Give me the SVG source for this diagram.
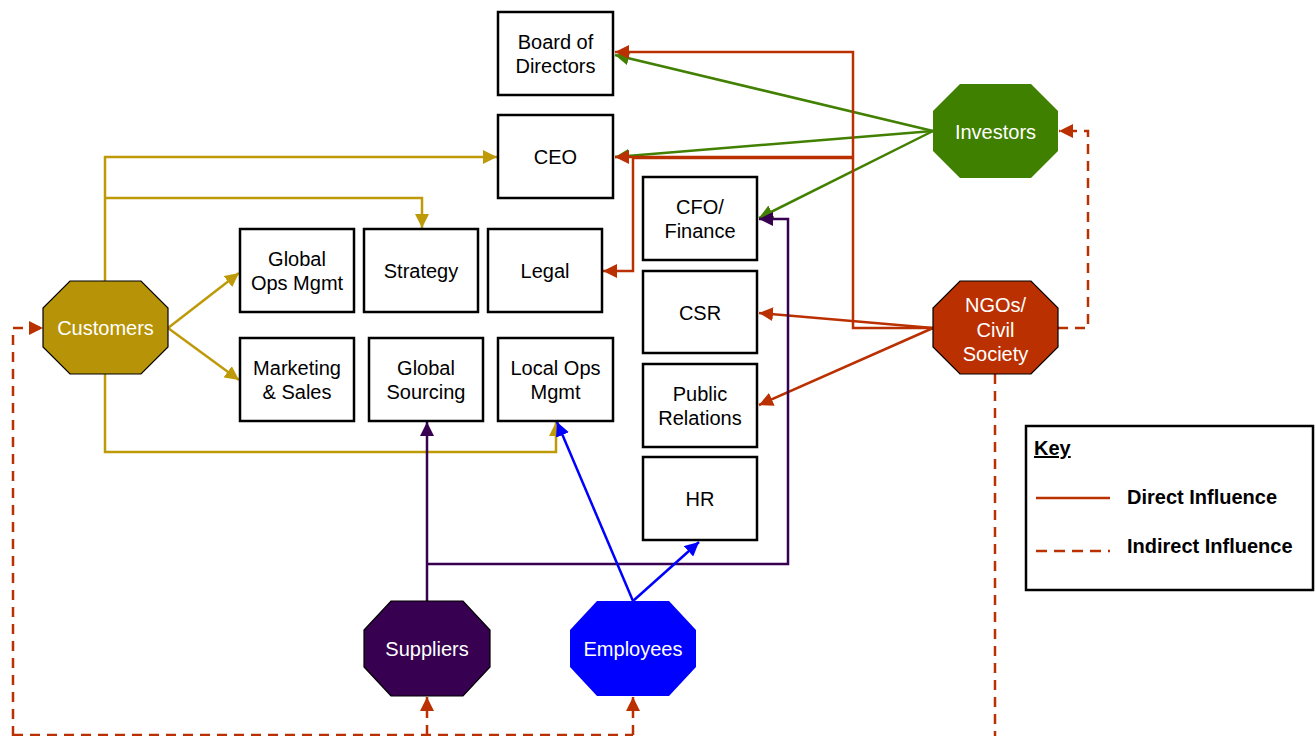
<svg xmlns="http://www.w3.org/2000/svg" width="1315" height="736" viewBox="0 0 1315 736">
<defs>
<style>
.box{fill:#fff;stroke:#000;stroke-width:2.5}
.t{font-family:"Liberation Sans",Arial,sans-serif;font-size:20px;fill:#000;text-anchor:middle}
.w{fill:#fff}
.c{fill:none;stroke-width:2.5;stroke-linejoin:miter}
.gold{stroke:#BE9A08}
.green{stroke:#418000}
.red{stroke:#BA3000}
.purple{stroke:#380050}
.blue{stroke:#0000FF}
.dash{stroke-dasharray:10,7}
.k{font-family:"Liberation Sans",Arial,sans-serif;font-size:20px;font-weight:bold;fill:#000}
</style>
<marker id="aGold" viewBox="0 0 10 10" refX="10" refY="5" markerWidth="14" markerHeight="14" markerUnits="userSpaceOnUse" orient="auto"><path d="M0,0L10,5L0,10z" fill="#BE9A08"/></marker>
<marker id="aGreen" viewBox="0 0 10 10" refX="10" refY="5" markerWidth="14" markerHeight="14" markerUnits="userSpaceOnUse" orient="auto"><path d="M0,0L10,5L0,10z" fill="#418000"/></marker>
<marker id="aRed" viewBox="0 0 10 10" refX="10" refY="5" markerWidth="14" markerHeight="14" markerUnits="userSpaceOnUse" orient="auto"><path d="M0,0L10,5L0,10z" fill="#BA3000"/></marker>
<marker id="aPurple" viewBox="0 0 10 10" refX="10" refY="5" markerWidth="14" markerHeight="14" markerUnits="userSpaceOnUse" orient="auto"><path d="M0,0L10,5L0,10z" fill="#380050"/></marker>
<marker id="aBlue" viewBox="0 0 10 10" refX="10" refY="5" markerWidth="14" markerHeight="14" markerUnits="userSpaceOnUse" orient="auto"><path d="M0,0L10,5L0,10z" fill="#0000FF"/></marker>
</defs>
<rect width="1315" height="736" fill="#fff"/>

<g id="connectors">
<!-- Customers (gold) -->
<path class="c gold" d="M105,281V157H497" marker-end="url(#aGold)"/>
<path class="c gold" d="M105,198H422V228" marker-end="url(#aGold)"/>
<path class="c gold" d="M168,328L239,273" marker-end="url(#aGold)"/>
<path class="c gold" d="M168,328L239,380" marker-end="url(#aGold)"/>
<path class="c gold" d="M105,374V452H556V422" marker-end="url(#aGold)"/>
<!-- Investors (green) -->
<path class="c green" d="M933,131L615,55" marker-end="url(#aGreen)"/>
<path class="c green" d="M933,131L615,157" marker-end="url(#aGreen)"/>
<path class="c green" d="M933,131L759,218" marker-end="url(#aGreen)"/>
<!-- NGOs (red) -->
<path class="c red" d="M933,328H853V52H615" marker-end="url(#aRed)"/>
<path class="c red" d="M853,157H615" marker-end="url(#aRed)"/>
<path class="c red" d="M853,158H633V271H603" marker-end="url(#aRed)"/>
<path class="c red" d="M933,328L759,313" marker-end="url(#aRed)"/>
<path class="c red" d="M933,328L759,405" marker-end="url(#aRed)"/>
<!-- Suppliers (purple) -->
<path class="c purple" d="M427,601V422" marker-end="url(#aPurple)"/>
<path class="c purple" d="M427,564H788V219H759" marker-end="url(#aPurple)"/>
<!-- Employees (blue) -->
<path class="c blue" d="M633,601L557,422" marker-end="url(#aBlue)"/>
<path class="c blue" d="M633,601L699,542" marker-end="url(#aBlue)"/>
<!-- Indirect (dashed red) -->
<path class="c red dash" d="M1058,328H1088V131H1059" marker-end="url(#aRed)"/>
<path class="c red dash" d="M995,374V736"/>
<path class="c red dash" d="M13,736V328H43" marker-end="url(#aRed)"/>
<path class="c red dash" d="M13,735H633"/>
<path class="c red dash" d="M427,735V697" marker-end="url(#aRed)"/>
<path class="c red dash" d="M633,735V697" marker-end="url(#aRed)"/>
</g>

<g id="board"><rect class="box" x="498" y="12" width="115" height="83"/><text class="t" x="555.5" y="49">Board of</text><text class="t" x="555.5" y="73">Directors</text></g>
<g id="ceo"><rect class="box" x="498" y="115" width="115" height="83"/><text class="t" x="555.5" y="164">CEO</text></g>
<g id="cfo"><rect class="box" x="643" y="177" width="114" height="83"/><text class="t" x="700" y="214">CFO/</text><text class="t" x="700" y="238">Finance</text></g>
<g id="globalops"><rect class="box" x="240" y="229" width="114" height="83"/><text class="t" x="297" y="266">Global</text><text class="t" x="297" y="290">Ops Mgmt</text></g>
<g id="strategy"><rect class="box" x="364" y="229" width="114" height="83"/><text class="t" x="421" y="278">Strategy</text></g>
<g id="legal"><rect class="box" x="488" y="229" width="114" height="83"/><text class="t" x="545" y="278">Legal</text></g>
<g id="csr"><rect class="box" x="643" y="271" width="114" height="82"/><text class="t" x="700" y="319.5">CSR</text></g>
<g id="marketing"><rect class="box" x="240" y="338" width="114" height="83"/><text class="t" x="297" y="375">Marketing</text><text class="t" x="297" y="399">&amp; Sales</text></g>
<g id="sourcing"><rect class="box" x="369" y="338" width="114" height="83"/><text class="t" x="426" y="375">Global</text><text class="t" x="426" y="399">Sourcing</text></g>
<g id="localops"><rect class="box" x="498" y="338" width="115" height="83"/><text class="t" x="555.5" y="375">Local Ops</text><text class="t" x="555.5" y="399">Mgmt</text></g>
<g id="pr"><rect class="box" x="643" y="364" width="114" height="83"/><text class="t" x="700" y="401">Public</text><text class="t" x="700" y="425">Relations</text></g>
<g id="hr"><rect class="box" x="643" y="457" width="114" height="83"/><text class="t" x="700" y="506">HR</text></g>

<g id="investors"><polygon points="960,84 1031,84 1058,111 1058,151 1031,178 960,178 933,151 933,111" fill="#408000"/><text class="t w" x="995.5" y="138.5">Investors</text></g>
<g id="ngos"><polygon points="960,281 1031,281 1058,308 1058,347 1031,374 960,374 933,347 933,308" fill="#BA3000" stroke="#000" stroke-width="1.2"/><text class="t w" x="995.5" y="312">NGOs/</text><text class="t w" x="995.5" y="337">Civil</text><text class="t w" x="995.5" y="361">Society</text></g>
<g id="customers"><polygon points="70,281 141,281 168,308 168,347 141,374 70,374 43,347 43,308" fill="#B79407" stroke="#000" stroke-width="1.2"/><text class="t w" x="105.5" y="335">Customers</text></g>
<g id="suppliers"><polygon points="391,601 463,601 490,630 490,667 463,696 391,696 364,667 364,630" fill="#380050" stroke="#000" stroke-width="1.2"/><text class="t w" x="427" y="656">Suppliers</text></g>
<g id="employees"><polygon points="597,601 669,601 696,630 696,667 669,696 597,696 570,667 570,630" fill="#0000FF"/><text class="t w" x="633" y="656">Employees</text></g>

<g id="key">
<rect class="box" x="1026" y="426" width="287" height="164"/>
<text class="k" x="1034" y="455" text-decoration="underline">Key</text>
<line x1="1036" y1="498" x2="1110" y2="498" stroke="#BA3000" stroke-width="2.5"/>
<text class="k" x="1127" y="504">Direct Influence</text>
<line x1="1036" y1="551" x2="1110" y2="551" stroke="#BA3000" stroke-width="2.5" stroke-dasharray="11,7"/>
<text class="k" x="1127" y="553">Indirect Influence</text>
</g>
</svg>
